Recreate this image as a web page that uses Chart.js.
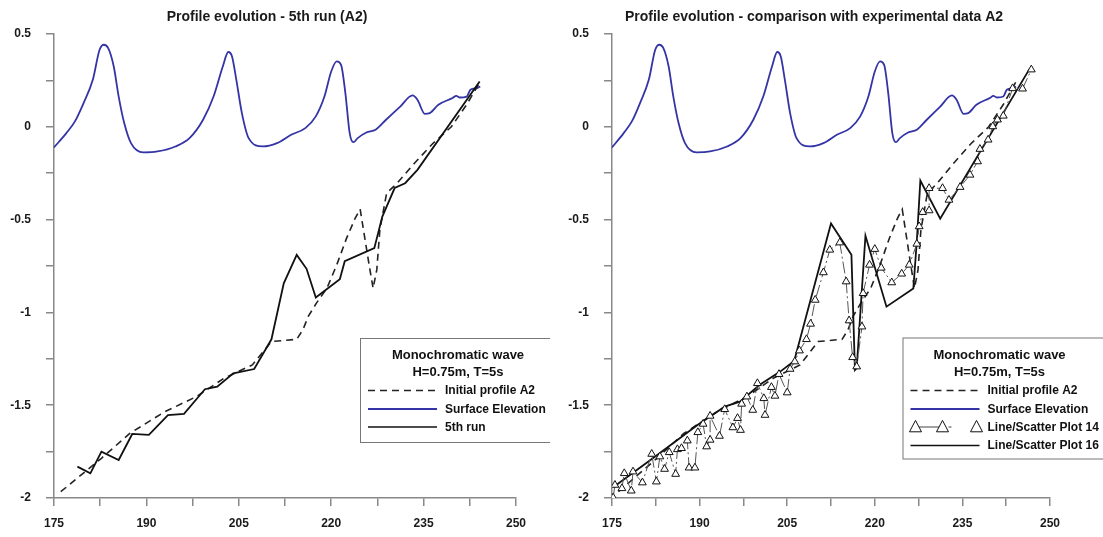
<!DOCTYPE html>
<html>
<head>
<meta charset="utf-8">
<script src="https://cdn.jsdelivr.net/npm/chart.js@4.4.1/dist/chart.umd.min.js"></script>
<style>
  html, body { margin: 0; padding: 0; background: #fff; }
  #wrap { position: relative; width: 1103px; height: 537px; overflow: hidden; }
  canvas { position: absolute; top: 0; }
  #c1 { left: 0; }
  #c2 { left: 550px; }
</style>
</head>
<body>
<div id="wrap">
  <canvas id="c1" width="550" height="537"></canvas>
  <canvas id="c2" width="553" height="537"></canvas>
</div>
<script>
// ---------------- DATA ----------------
const titleLeft = "Profile evolution - 5th run (A2)";
const titleRight = "Profile evolution - comparison with experimental data A2";
const legendHeader = ["Monochromatic wave", "H=0.75m, T=5s"];
const legendLeftLabels = ["Initial profile A2", "Surface Elevation", "5th run"];
const legendRightLabels = ["Initial profile A2", "Surface Elevation", "Line/Scatter Plot 14", "Line/Scatter Plot 16"];

const xLabelValues = [175, 190, 205, 220, 235, 250];
const yLabelValues = [0.5, 0, -0.5, -1, -1.5, -2];

// Surface elevation (blue)
const surfX = [175,177.0,178.4,179.8,181.3,182.4,183.1,183.8,184.7,185.5,186.4,187.5,189.5,191.8,194.7,197.0,199.2,200.9,202.4,203.3,203.9,204.6,205.5,206.6,208.9,211.2,213.5,215.8,217.5,218.9,220.0,220.9,221.6,222.3,223.0,223.6,224.3,225.7,227.2,228.9,231.2,233.2,234.0,235.2,236.0,237.4,239.7,240.3,240.9,242.0,242.6,243.7,244.2];
const surfY = [-0.111,-0.034,0.029,0.128,0.253,0.415,0.442,0.424,0.325,0.163,0.02,-0.088,-0.138,-0.133,-0.106,-0.061,0.038,0.163,0.325,0.403,0.379,0.253,0.074,-0.061,-0.106,-0.088,-0.043,-0.007,0.056,0.163,0.298,0.352,0.334,0.182,-0.034,-0.083,-0.061,-0.031,-0.016,0.038,0.109,0.169,0.146,0.07,0.074,0.119,0.155,0.167,0.158,0.163,0.2,0.209,0.217];

// Initial profile A2 (dashed)
const initX = [176.1,182.7,187.3,193.0,198.1,202.6,207.2,210.3,214.4,215.4,216.3,217.6,219.3,220.9,222.5,223.9,224.7,225.5,226.2,226.8,227.4,227.9,229.0,230.7,233.4,236.5,239.5,242.0,244.2];
const initY = [-1.966,-1.786,-1.652,-1.535,-1.454,-1.355,-1.283,-1.157,-1.145,-1.094,-1.02,-0.95,-0.87,-0.744,-0.6,-0.492,-0.444,-0.609,-0.753,-0.870,-0.771,-0.555,-0.357,-0.304,-0.2,-0.09,0.0,0.12,0.244];

// 5th run (solid, left)
const run5X = [178.8,180.9,182.7,185.5,187.7,190.4,193.5,196.1,199.5,201.5,204.1,207.5,210.3,212.3,214.4,216.0,217.5,221.4,222.2,227.0,228.3,230.3,232.0,234.0,244.1];
const run5Y = [-1.831,-1.867,-1.75,-1.795,-1.655,-1.66,-1.553,-1.547,-1.414,-1.4,-1.328,-1.305,-1.145,-0.843,-0.69,-0.765,-0.92,-0.821,-0.724,-0.654,-0.484,-0.33,-0.304,-0.232,0.244];

// Line/Scatter Plot 16 (solid, right)
const p16X = [175.5,182.4,189.7,194.3,196.9,200.3,203.8,206.2,212.5,216.0,216.6,216.9,218.4,222.0,226.6,227.2,227.8,231.2,246.5];
const p16Y = [-1.935,-1.776,-1.605,-1.508,-1.481,-1.39,-1.319,-1.262,-0.521,-0.69,-1.31,-1.30,-0.587,-0.969,-0.871,-0.614,-0.29,-0.495,0.312];

// Line/Scatter Plot 14 (triangles, right)
const p14X = [175.2,175.5,176.7,177.1,178.3,178.6,180.2,181.8,182.6,183.2,184.0,184.8,185.9,186.2,186.9,187.9,188.2,189.2,189.7,190.6,191.2,191.8,191.8,193.4,194.3,195.7,196.5,197.0,197.2,198.1,199.1,199.9,201.0,201.2,202.3,202.9,203.6,205.0,205.5,206.3,207.1,208.3,209.0,209.8,211.2,212.3,214.0,215.1,215.6,216.2,216.9,217.8,218.0,219.1,220.0,221.1,222.9,224.6,225.9,227.2,227.6,228.2,229.3,229.3,231.6,232.7,234.6,236.3,237.6,238.0,239.4,240.2,241.0,242.0,243.6,245.3,246.8];
const p14Y = [-1.998,-1.93,-1.948,-1.867,-1.961,-1.858,-1.917,-1.763,-1.912,-1.777,-1.844,-1.754,-1.871,-1.738,-1.732,-1.691,-1.837,-1.837,-1.646,-1.601,-1.723,-1.687,-1.558,-1.666,-1.522,-1.62,-1.57,-1.634,-1.493,-1.454,-1.526,-1.382,-1.463,-1.553,-1.403,-1.45,-1.333,-1.432,-1.305,-1.265,-1.206,-1.145,-1.062,-0.933,-0.785,-0.663,-0.624,-0.834,-1.044,-1.242,-1.292,-1.077,-0.897,-0.744,-0.659,-0.76,-0.839,-0.792,-0.744,-0.631,-0.537,-0.46,-0.451,-0.331,-0.331,-0.394,-0.325,-0.259,-0.187,-0.12,-0.07,0.002,0.038,0.059,0.207,0.205,0.308];

// ---------------- HELPERS ----------------
const FONT = '"Liberation Sans", Arial, sans-serif';
Chart.defaults.font.family = FONT;
const BLUE = '#3434a6';
const pts = (xs, ys) => xs.map((x, i) => ({ x: x, y: ys[i] }));

function drawTri(ctx, cx, cy, s) {
  ctx.beginPath();
  ctx.moveTo(cx, cy - s * 0.55);
  ctx.lineTo(cx - s / 2, cy + s * 0.4);
  ctx.lineTo(cx + s / 2, cy + s * 0.4);
  ctx.closePath();
  ctx.fillStyle = '#fff';
  ctx.fill();
  ctx.strokeStyle = '#111';
  ctx.lineWidth = 1;
  ctx.stroke();
}

function decoPlugin(cfg) {
  return {
    id: 'deco',
    afterDraw(chart) {
      const ctx = chart.ctx;
      ctx.save();
      // title
      ctx.fillStyle = '#1a1a1a';
      ctx.font = 'bold 14px ' + FONT;
      ctx.textAlign = 'center';
      ctx.textBaseline = 'middle';
      ctx.fillText(cfg.title, cfg.titleX, cfg.titleY);
      // legend box
      const L = cfg.legend;
      ctx.fillStyle = '#fff';
      ctx.fillRect(L.x, L.y, L.w, L.h);
      ctx.strokeStyle = '#777';
      ctx.lineWidth = 1;
      ctx.strokeRect(L.x + 0.5, L.y + 0.5, L.w, L.h);
      ctx.fillStyle = '#111';
      ctx.font = 'bold 13px ' + FONT;
      ctx.fillText(legendHeader[0], L.x + L.cx, L.rowsHeader[0]);
      ctx.fillText(legendHeader[1], L.x + L.cx, L.rowsHeader[1]);
      ctx.font = 'bold 12px ' + FONT;
      ctx.textAlign = 'left';
      L.items.forEach((it, i) => {
        const y = L.rows[i];
        const x0 = L.x + 8, x1 = L.x + 77;
        ctx.save();
        if (it.type === 'dash') {
          ctx.strokeStyle = '#222'; ctx.lineWidth = 1.6; ctx.setLineDash([7, 5]);
          ctx.beginPath(); ctx.moveTo(x0, y); ctx.lineTo(x1, y); ctx.stroke();
        } else if (it.type === 'blue') {
          ctx.strokeStyle = BLUE; ctx.lineWidth = 1.8;
          ctx.beginPath(); ctx.moveTo(x0, y); ctx.lineTo(x1, y); ctx.stroke();
        } else if (it.type === 'solid') {
          ctx.strokeStyle = '#111'; ctx.lineWidth = 1.6;
          ctx.beginPath(); ctx.moveTo(x0, y); ctx.lineTo(x1, y); ctx.stroke();
        } else if (it.type === 'tri') {
          ctx.strokeStyle = '#444'; ctx.lineWidth = 1;
          ctx.beginPath(); ctx.moveTo(L.x + 13, y); ctx.lineTo(L.x + 39, y); ctx.stroke();
          ctx.beginPath(); ctx.moveTo(L.x + 46, y); ctx.lineTo(L.x + 49, y); ctx.stroke();
          drawTri(ctx, L.x + 13, y, 12);
          drawTri(ctx, L.x + 40, y, 12);
          drawTri(ctx, L.x + 74, y, 12);
        }
        ctx.restore();
        ctx.fillStyle = '#111';
        ctx.fillText(it.label, L.x + 85, y + 0.5);
      });
      ctx.restore();
    }
  };
}

function scalesCfg(yWidth) {
  const tickFont = { size: 12, weight: 'bold', family: FONT };
  return {
    x: {
      type: 'linear', min: 175, max: 250,
      afterFit: s => { s.height = 39; },
      border: { display: true, color: '#888', width: 1.5 },
      grid: { drawOnChartArea: false, drawTicks: true, tickLength: 8, color: '#888', lineWidth: 1.5 },
      ticks: {
        stepSize: 7.5, autoSkip: false, maxRotation: 0, padding: 10, color: '#1a1a1a', font: tickFont,
        callback: v => xLabelValues.some(l => Math.abs(l - v) < 1e-6) ? String(Math.round(v)) : ''
      }
    },
    y: {
      type: 'linear', min: -2, max: 0.5,
      afterFit: s => { s.width = yWidth; },
      border: { display: true, color: '#888', width: 1.5 },
      grid: { drawOnChartArea: false, drawTicks: true, tickLength: 8, color: '#888', lineWidth: 1.5 },
      ticks: {
        stepSize: 0.25, autoSkip: false, padding: 15, color: '#1a1a1a', font: tickFont,
        callback: v => yLabelValues.some(l => Math.abs(l - v) < 1e-6) ? String(Math.round(v * 10) / 10) : ''
      }
    }
  };
}

const common = {
  responsive: false,
  animation: false,
  devicePixelRatio: 1,
  plugins: { legend: { display: false }, tooltip: { enabled: false }, title: { display: false } },
  elements: { point: { radius: 0 } }
};

// ---------------- LEFT CHART ----------------
new Chart(document.getElementById('c1'), {
  type: 'scatter',
  data: {
    datasets: [
      { data: pts(run5X, run5Y), showLine: true, borderColor: '#111', borderWidth: 1.8, pointRadius: 0, order: 1 },
      { data: pts(initX, initY), showLine: true, borderColor: '#222', borderWidth: 1.6, borderDash: [7, 5], pointRadius: 0, order: 2 },
      { data: pts(surfX, surfY), showLine: true, borderColor: BLUE, borderWidth: 1.8, pointRadius: 0, tension: 0.4, cubicInterpolationMode: 'monotone', order: 3 }
    ]
  },
  options: Object.assign({}, common, {
    layout: { padding: { top: 34, right: 34, left: 0, bottom: 0 } },
    scales: scalesCfg(54)
  }),
  plugins: [decoPlugin({
    title: titleLeft, titleX: 267, titleY: 17,
    legend: {
      x: 360, y: 338, w: 205, h: 104, cx: 98,
      rowsHeader: [355, 372],
      rows: [390.5, 409, 427],
      items: [
        { type: 'dash', label: legendLeftLabels[0] },
        { type: 'blue', label: legendLeftLabels[1] },
        { type: 'solid', label: legendLeftLabels[2] }
      ]
    }
  })]
});

// ---------------- RIGHT CHART ----------------
new Chart(document.getElementById('c2'), {
  type: 'scatter',
  data: {
    datasets: [
      { data: pts(p14X, p14Y), showLine: true, borderColor: '#555', borderWidth: 1, borderDash: [12, 3, 2, 3],
        pointStyle: 'triangle', pointRadius: 4.5, pointBorderColor: '#111', pointBackgroundColor: '#fff', pointBorderWidth: 1, order: 0 },
      { data: pts(p16X, p16Y), showLine: true, borderColor: '#111', borderWidth: 1.8, pointRadius: 0, order: 1 },
      { data: pts(initX, initY), showLine: true, borderColor: '#222', borderWidth: 1.6, borderDash: [7, 5], pointRadius: 0, order: 2 },
      { data: pts(surfX, surfY), showLine: true, borderColor: BLUE, borderWidth: 1.8, pointRadius: 0, tension: 0.4, cubicInterpolationMode: 'monotone', order: 3 }
    ]
  },
  options: Object.assign({}, common, {
    layout: { padding: { top: 34, right: 53, left: 0, bottom: 0 } },
    scales: scalesCfg(62)
  }),
  plugins: [decoPlugin({
    title: titleRight, titleX: 264, titleY: 17,
    legend: {
      x: 352.5, y: 337.5, w: 205, h: 121, cx: 97,
      rowsHeader: [355, 372],
      rows: [390.5, 409, 427, 445.5],
      items: [
        { type: 'dash', label: legendRightLabels[0] },
        { type: 'blue', label: legendRightLabels[1] },
        { type: 'tri', label: legendRightLabels[2] },
        { type: 'solid', label: legendRightLabels[3] }
      ]
    }
  })]
});
</script>
</body>
</html>
